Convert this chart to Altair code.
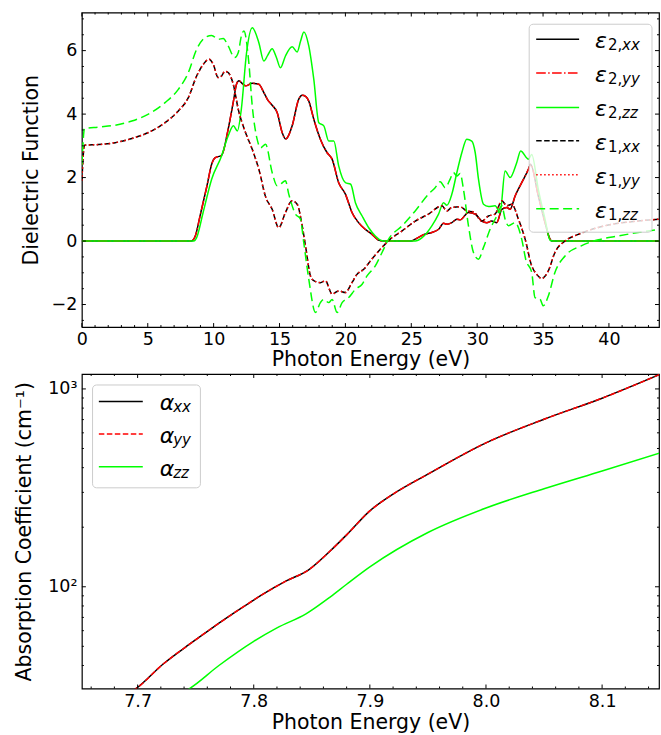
import altair as alt
import pandas as pd

# ---------------- top panel: dielectric function ----------------
e2xx_E = [0, 8.3, 8.6, 9.0, 9.5, 9.85, 10.1, 10.6, 11.1, 11.5, 11.74, 11.92, 12.2, 12.42, 12.93, 13.43,
          13.81, 14.1, 14.44, 14.82, 15.2, 15.45, 15.58, 15.96, 16.46, 16.72, 17.0, 17.22, 17.6, 18.1,
          18.6, 18.99, 19.49, 20.0, 20.5, 21.0, 21.5, 22.0, 22.5, 22.9, 25.0, 25.3, 26.06, 26.56, 27.07,
          27.45, 27.7, 28.08, 28.46, 28.71, 29.34, 29.85, 30.35, 30.73, 31.11, 31.49, 31.87, 32.25, 32.5,
          32.88, 33.38, 33.89, 34.05, 34.64, 35.15, 35.53, 35.65, 43.8]
e2xx_v = [0, 0, 0.15, 0.85, 1.75, 2.42, 2.62, 2.7, 3.52, 4.4, 4.95, 5.05, 4.95, 4.89, 4.97, 4.94,
          4.68, 4.45, 4.28, 4.05, 3.42, 3.22, 3.25, 3.63, 4.47, 4.59, 4.55, 4.41, 3.84, 3.21,
          2.79, 2.58, 1.84, 1.48, 0.9, 0.58, 0.37, 0.22, 0.03, 0, 0, 0.06, 0.22, 0.27, 0.37,
          0.56, 0.53, 0.58, 0.69, 0.67, 0.9, 0.85, 0.63, 0.58, 0.63, 0.58, 1.0, 1.06, 1.0,
          1.42, 1.84, 2.26, 2.42, 1.42, 0.58, 0.06, 0, 0]
e2yy_E = [0, 8.3, 8.6, 9.0, 9.5, 9.85, 10.1, 10.6, 11.1, 11.5, 11.74, 11.92, 12.2, 12.42, 12.93, 13.43,
          13.81, 14.1, 14.44, 14.82, 15.2, 15.45, 15.58, 15.96, 16.46, 16.72, 17.0, 17.22, 17.6, 18.1,
          18.6, 18.99, 19.49, 20.0, 20.5, 21.0, 21.5, 22.0, 22.5, 22.9, 25.0, 25.3, 26.06, 26.56, 27.07,
          27.45, 27.7, 28.08, 28.46, 28.71, 29.34, 29.85, 30.35, 30.73, 31.11, 31.49, 31.87, 32.25, 32.5,
          32.88, 33.38, 33.89, 34.05, 34.64, 35.15, 35.53, 35.65, 43.8]
e2yy_v = [0, 0, 0.15, 0.85, 1.75, 2.42, 2.62, 2.7, 3.52, 4.4, 4.95, 5.05, 4.95, 4.89, 4.97, 4.94,
          4.68, 4.45, 4.28, 4.05, 3.42, 3.22, 3.25, 3.63, 4.47, 4.59, 4.55, 4.41, 3.84, 3.21,
          2.79, 2.58, 1.84, 1.48, 0.9, 0.58, 0.37, 0.22, 0.03, 0, 0, 0.06, 0.22, 0.27, 0.37,
          0.56, 0.53, 0.58, 0.69, 0.67, 0.9, 0.85, 0.63, 0.58, 0.63, 0.58, 1.0, 1.06, 1.0,
          1.42, 1.84, 2.26, 2.42, 1.42, 0.58, 0.06, 0, 0]
e2zz_E = [0, 8.5, 8.7, 9.2, 9.85, 10.6, 11.1, 11.5, 11.8, 12.1, 12.5, 12.93, 13.43, 13.81, 14.1, 14.44,
          14.75, 15.07, 15.45, 15.96, 16.34, 16.6, 16.85, 17.22, 17.6, 17.98, 18.36, 18.74, 19.12, 19.49,
          20.0, 20.4, 20.76, 21.27, 21.77, 22.27, 22.78, 23.0, 25.3, 25.8, 26.56, 27.07, 27.45, 27.7,
          28.08, 28.46, 28.84, 29.21, 29.59, 29.85, 30.1, 30.48, 30.86, 31.36, 31.74, 32.12, 32.5, 33.0,
          33.3, 33.9, 34.14, 34.64, 35.15, 35.53, 35.7, 43.8]
e2zz_v = [0, 0, 0.1, 0.9, 1.95, 2.68, 3.31, 3.63, 3.47, 4.15, 5.94, 6.72, 6.25, 5.67, 5.85, 6.06,
          5.8, 5.46, 5.83, 6.12, 5.96, 6.3, 6.59, 6.15, 5.1, 3.73, 3.63, 3.15, 3.15, 2.37,
          1.84, 1.79, 1.21, 0.79, 0.42, 0.16, 0.01, 0, 0, 0.1, 0.48, 0.85, 1.21, 1.13,
          1.48, 2.16, 2.79, 3.21, 3.15, 2.79, 1.95, 1.16, 1.09, 1.11, 0.9, 2.21, 2.0, 2.47,
          2.84, 2.58, 2.73, 1.63, 0.69, 0.03, 0, 0]
e1xx_E = [0, 0.2, 1.26, 2.53, 3.79, 5.05, 6.31, 7.32, 8.08, 8.71, 9.22, 9.66, 9.97, 10.35, 10.6, 10.86,
          11.1, 11.49, 11.87, 12.42, 12.93, 13.43, 13.94, 14.44, 14.94, 15.45, 15.96, 16.34, 16.72, 16.97,
          17.35, 17.6, 18.1, 18.48, 18.99, 19.49, 20.0, 20.5, 20.88, 21.39, 22.0, 22.78, 23.4, 24.3,
          25.3, 26.31, 27.32, 27.7, 28.08, 28.71, 29.21, 29.72, 30.35, 30.86, 31.36, 31.87, 32.25, 32.63,
          33.13, 33.64, 34.14, 34.52, 34.9, 35.4, 35.9, 36.67, 37.67, 39.2, 40.7, 42.2, 43.8]
e1xx_v = [1.9, 3.02, 3.04, 3.1, 3.23, 3.42, 3.73, 4.1, 4.52, 5.2, 5.57, 5.73, 5.57, 5.15, 5.2, 5.35,
          5.31, 4.94, 4.15, 3.42, 2.89, 2.26, 1.4, 1.0, 0.42, 0.9, 1.27, 1.16, 0.48, -0.15,
          -1.1, -1.25, -1.31, -1.25, -1.67, -1.57, -1.62, -1.31, -1.05, -0.89, -0.57, -0.2, 0.06, 0.32,
          0.63, 0.85, 1.11, 0.95, 1.06, 1.08, 0.95, 0.92, 0.63, 0.79, 0.85, 1.27, 1.11, 1.16,
          0.69, 0.06, -0.78, -1.05, -1.18, -0.94, -0.36, 0.0, 0.21, 0.43, 0.56, 0.63, 0.69]
e1yy_E = [0, 0.2, 1.26, 2.53, 3.79, 5.05, 6.31, 7.32, 8.08, 8.71, 9.22, 9.66, 9.97, 10.35, 10.6, 10.86,
          11.1, 11.49, 11.87, 12.42, 12.93, 13.43, 13.94, 14.44, 14.94, 15.45, 15.96, 16.34, 16.72, 16.97,
          17.35, 17.6, 18.1, 18.48, 18.99, 19.49, 20.0, 20.5, 20.88, 21.39, 22.0, 22.78, 23.4, 24.3,
          25.3, 26.31, 27.32, 27.7, 28.08, 28.71, 29.21, 29.72, 30.35, 30.86, 31.36, 31.87, 32.25, 32.63,
          33.13, 33.64, 34.14, 34.52, 34.9, 35.4, 35.9, 36.67, 37.67, 39.2, 40.7, 42.2, 43.8]
e1yy_v = [1.9, 3.02, 3.04, 3.1, 3.23, 3.42, 3.73, 4.1, 4.52, 5.2, 5.57, 5.73, 5.57, 5.15, 5.2, 5.35,
          5.31, 4.94, 4.15, 3.42, 2.89, 2.26, 1.4, 1.0, 0.42, 0.9, 1.27, 1.16, 0.48, -0.15,
          -1.1, -1.25, -1.31, -1.25, -1.67, -1.57, -1.62, -1.31, -1.05, -0.89, -0.57, -0.2, 0.06, 0.32,
          0.63, 0.85, 1.11, 0.95, 1.06, 1.08, 0.95, 0.92, 0.63, 0.79, 0.85, 1.27, 1.11, 1.16,
          0.69, 0.06, -0.78, -1.05, -1.18, -0.94, -0.36, 0.0, 0.21, 0.43, 0.56, 0.63, 0.69]
e1zz_E = [0, 0.2, 1.26, 2.53, 3.79, 5.05, 6.31, 7.32, 8.08, 8.71, 9.34, 9.85, 10.35, 10.73, 11.1, 11.6,
          11.87, 12.1, 12.3, 12.67, 12.93, 13.3, 13.56, 13.94, 14.44, 14.82, 15.07, 15.45, 15.7, 16.21,
          16.59, 16.84, 17.22, 17.73, 18.1, 18.36, 18.74, 18.99, 19.37, 19.75, 20.25, 20.76, 21.27, 21.64,
          22.27, 22.78, 23.28, 24.3, 25.3, 26.31, 26.81, 27.2, 27.57, 27.95, 28.2, 28.46, 28.71, 28.96,
          29.34, 29.72, 30.1, 30.48, 30.98, 31.49, 31.87, 32.12, 32.38, 32.88, 33.38, 33.7, 34.14, 34.39,
          34.77, 35.02, 35.4, 35.9, 36.67, 37.9, 39.2, 40.7, 42.2, 43.8]
e1zz_v = [2.4, 3.54, 3.59, 3.65, 3.78, 4.0, 4.36, 4.78, 5.31, 6.04, 6.41, 6.48, 6.36, 6.38, 6.15, 5.78,
          5.94, 6.45, 6.62, 5.62, 4.26, 3.21, 2.94, 3.05, 2.16, 1.74, 1.79, 1.9, 1.48, 0.85,
          0.69, -0.05, -1.2, -2.25, -1.94, -1.84, -1.94, -1.84, -2.25, -1.94, -1.78, -1.52, -1.36, -1.1,
          -0.78, -0.36, 0.06, 0.48, 0.95, 1.48, 1.68, 1.87, 1.68, 1.95, 2.16, 2.05, 2.13, 1.63,
          0.48, -0.36, -0.57, -0.2, 0.37, 0.79, 1.11, 0.69, 0.48, 0.58, 0.06, -0.6, -0.99, -1.78,
          -1.83, -2.04, -1.73, -0.99, -0.47, -0.15, 0.04, 0.16, 0.27, 0.37]

top_x_ticks = [0, 5, 10, 15, 20, 25, 30, 35, 40]
top_x_minor = [1, 2, 3, 4, 6, 7, 8, 9, 11, 12, 13, 14, 16, 17, 18, 19, 21, 22, 23, 24,
               26, 27, 28, 29, 31, 32, 33, 34, 36, 37, 38, 39, 41, 42, 43]
top_y_ticks = [-2, 0, 2, 4, 6]
top_y_minor = [-2.5, -1.5, -1, -0.5, 0.5, 1, 1.5, 2.5, 3, 3.5, 4.5, 5, 5.5, 6.5, 7]

top_leg_num = ["2,", "2,", "2,", "1,", "1,", "1,"]
top_leg_sub = ["xx", "yy", "zz", "xx", "yy", "zz"]

# ---------------- bottom panel: absorption coefficient ----------------
axx_E = [7.69, 7.698, 7.722, 7.745, 7.765, 7.785, 7.808, 7.828, 7.847, 7.866, 7.88, 7.9, 7.92, 7.95,
         8.0, 8.05, 8.1, 8.15]
axx_v = [28.5, 30.4, 40.7, 51.4, 62.4, 75.0, 91.8, 107.0, 121.5, 152.0, 183.0, 242.0, 294.0, 371.0,
         534.0, 703.0, 898.0, 1186.0]
ayy_E = [7.69, 7.698, 7.722, 7.745, 7.765, 7.785, 7.808, 7.828, 7.847, 7.866, 7.88, 7.9, 7.92, 7.95,
         8.0, 8.05, 8.1, 8.15]
ayy_v = [28.5, 30.4, 40.7, 51.4, 62.4, 75.0, 91.8, 107.0, 121.5, 152.0, 183.0, 242.0, 294.0, 371.0,
         534.0, 703.0, 898.0, 1186.0]
azz_E = [7.735, 7.744, 7.77, 7.8, 7.82, 7.845, 7.866, 7.88, 7.9, 7.95, 8.0, 8.05, 8.1, 8.15]
azz_v = [28.5, 30.4, 40.0, 53.0, 62.0, 73.0, 89.0, 103.0, 126.0, 188.0, 250.0, 313.0, 385.0, 475.0]

bot_x_ticks = [7.7, 7.8, 7.9, 8.0, 8.1]
bot_x_minor = [7.66, 7.68, 7.72, 7.74, 7.76, 7.78, 7.82, 7.84, 7.86, 7.88, 7.92, 7.94, 7.96, 7.98,
               8.02, 8.04, 8.06, 8.08, 8.12, 8.14]
bot_y_ticks = [100, 1000]
bot_y_minor = [40, 50, 60, 70, 80, 90, 200, 300, 400, 500, 600, 700, 800, 900]
bot_leg_sub = ["xx", "yy", "zz"]

# ---------------- styling ----------------
FONT = "DejaVu Sans"
W, H = 578, 315
BLACK, RED, GREEN = "#000000", "#ff0000", "#00ff00"
DASH = [5.5, 2.5]
LONGDASH = [9, 4.5]
DASHDOT = [9.6, 2.4, 1.5, 2.4]
DOT = [1.5, 2.5]
dummy = pd.DataFrame({"a": [0]})


def mk_axis(values, fmt=None, label_expr=None, title_pad=3, label_pad=5):
    kw = dict(values=values, ticks=False, tickSize=0, domain=False, grid=False,
              labelPadding=label_pad, labelFontSize=17.5, labelFont=FONT, labelColor="black",
              titleFont=FONT, titleFontSize=20.5, titleFontWeight="normal", titleColor="black",
              titlePadding=title_pad, labelFlush=False, labelOverlap=False)
    if fmt:
        kw["format"] = fmt
    if label_expr:
        kw["labelExpr"] = label_expr
    return alt.Axis(**kw)


def panel(series, xs, ys, xaxis, yaxis, xtitle, ytitle, xmaj, xmin, ymaj, ymin, legend_layers):
    X = lambda f: alt.X(f, scale=xs, axis=xaxis, title=xtitle)
    Y = lambda f: alt.Y(f, scale=ys, axis=yaxis, title=ytitle)
    layers = []
    for E, v, color, dash in series:
        df = pd.DataFrame({"E": E, "v": v})
        kw = dict(color=color, strokeWidth=1.5, clip=True, interpolate="monotone")
        if dash:
            kw["strokeDash"] = dash
        layers.append(alt.Chart(df).mark_line(**kw).encode(x=X("E:Q"), y=Y("v:Q")))
    for vals, ln in ((xmaj, 4), (xmin, 2)):
        df = pd.DataFrame({"t": vals})
        layers.append(alt.Chart(df).mark_rule(color="black", strokeWidth=1).encode(
            x=X("t:Q"), y=alt.value(H), y2=alt.value(H - ln)))
        layers.append(alt.Chart(df).mark_rule(color="black", strokeWidth=1).encode(
            x=X("t:Q"), y=alt.value(0), y2=alt.value(ln)))
    for vals, ln in ((ymaj, 4), (ymin, 2)):
        df = pd.DataFrame({"t": vals})
        layers.append(alt.Chart(df).mark_rule(color="black", strokeWidth=1).encode(
            y=Y("t:Q"), x=alt.value(0), x2=alt.value(ln)))
        layers.append(alt.Chart(df).mark_rule(color="black", strokeWidth=1).encode(
            y=Y("t:Q"), x=alt.value(W), x2=alt.value(W - ln)))
    layers += legend_layers
    return alt.layer(*layers).properties(width=W, height=H)


def legend(box, entries, lx1, lx2, tx, sub_x, main_char, num_x=None):
    layers = [alt.Chart(dummy).mark_rect(fill="white", fillOpacity=0.8, stroke="#cccccc",
                                         strokeWidth=1, cornerRadius=4).encode(
        x=alt.value(box[0]), x2=alt.value(box[1]), y=alt.value(box[2]), y2=alt.value(box[3]))]
    for y, color, dash, num, sub in entries:
        kw = dict(color=color, strokeWidth=1.5)
        if dash:
            kw["strokeDash"] = dash
        layers.append(alt.Chart(dummy).mark_rule(**kw).encode(
            x=alt.value(lx1), x2=alt.value(lx2), y=alt.value(y)))
        layers.append(alt.Chart(dummy).mark_text(text=main_char, font=FONT, fontSize=22,
                                                 fontStyle="italic", align="left", baseline="middle",
                                                 color="black").encode(
            x=alt.value(tx), y=alt.value(y + 2)))
        if num is not None:
            layers.append(alt.Chart(dummy).mark_text(text=num, font=FONT, fontSize=15,
                                                     align="left", baseline="middle",
                                                     color="black").encode(
                x=alt.value(num_x), y=alt.value(y + 6)))
        layers.append(alt.Chart(dummy).mark_text(text=sub, font=FONT, fontSize=15,
                                                 fontStyle="italic", align="left", baseline="middle",
                                                 color="black").encode(
            x=alt.value(sub_x), y=alt.value(y + 6)))
    return layers


# ---- top ----
top_series = [
    (e2xx_E, e2xx_v, BLACK, None),
    (e2yy_E, e2yy_v, RED, DASHDOT),
    (e2zz_E, e2zz_v, GREEN, None),
    (e1xx_E, e1xx_v, BLACK, DASH),
    (e1yy_E, e1yy_v, RED, DOT),
    (e1zz_E, e1zz_v, GREEN, LONGDASH),
]
top_leg_y = [26.7, 60.5, 95, 128.5, 162.5, 196.5]
top_entries = [(top_leg_y[i], top_series[i][2], top_series[i][3], top_leg_num[i], top_leg_sub[i])
               for i in range(6)]
top = panel(top_series,
            alt.Scale(domain=[0, 43.8], nice=False, zero=False),
            alt.Scale(domain=[-2.71, 7.2], nice=False, zero=False),
            mk_axis(top_x_ticks, fmt="d", title_pad=2, label_pad=3),
            mk_axis(top_y_ticks, fmt="d", title_pad=10),
            "Photon Energy (eV)", "Dielectric Function",
            top_x_ticks, top_x_minor, top_y_ticks, top_y_minor,
            legend((448, 571, 11.7, 220), top_entries, 455, 498, 514, 541, "ε", num_x=527))

# ---- bottom ----
bot_series = [
    (axx_E, axx_v, BLACK, None),
    (ayy_E, ayy_v, RED, DASH),
    (azz_E, azz_v, GREEN, None),
]
bot_leg_y = [27.5, 60, 93]
bot_entries = [(bot_leg_y[i], bot_series[i][2], bot_series[i][3], None, bot_leg_sub[i]) for i in range(3)]
bottom = panel(bot_series,
               alt.Scale(domain=[7.652, 8.149], nice=False, zero=False),
               alt.Scale(type="log", domain=[30.6, 1190], nice=False),
               mk_axis(bot_x_ticks, fmt=".1f", title_pad=3, label_pad=4),
               mk_axis(bot_y_ticks, label_expr="datum.value == 100 ? '10²' : '10³'", title_pad=13),
               "Photon Energy (eV)", "Absorption Coefficient (cm⁻¹)",
               bot_x_ticks, bot_x_minor, bot_y_ticks, bot_y_minor,
               legend((10.7, 118.7, 11, 114), bot_entries, 17, 61, 78, 91.5, "α"))

chart = alt.vconcat(top, bottom, spacing=1).properties(
    padding={"left": 14, "top": 10, "right": 0, "bottom": 0},
    background="white",
).configure_view(stroke="black", strokeWidth=1.2)

chart.save("out.html", embed_options={"renderer": "svg", "actions": False})
